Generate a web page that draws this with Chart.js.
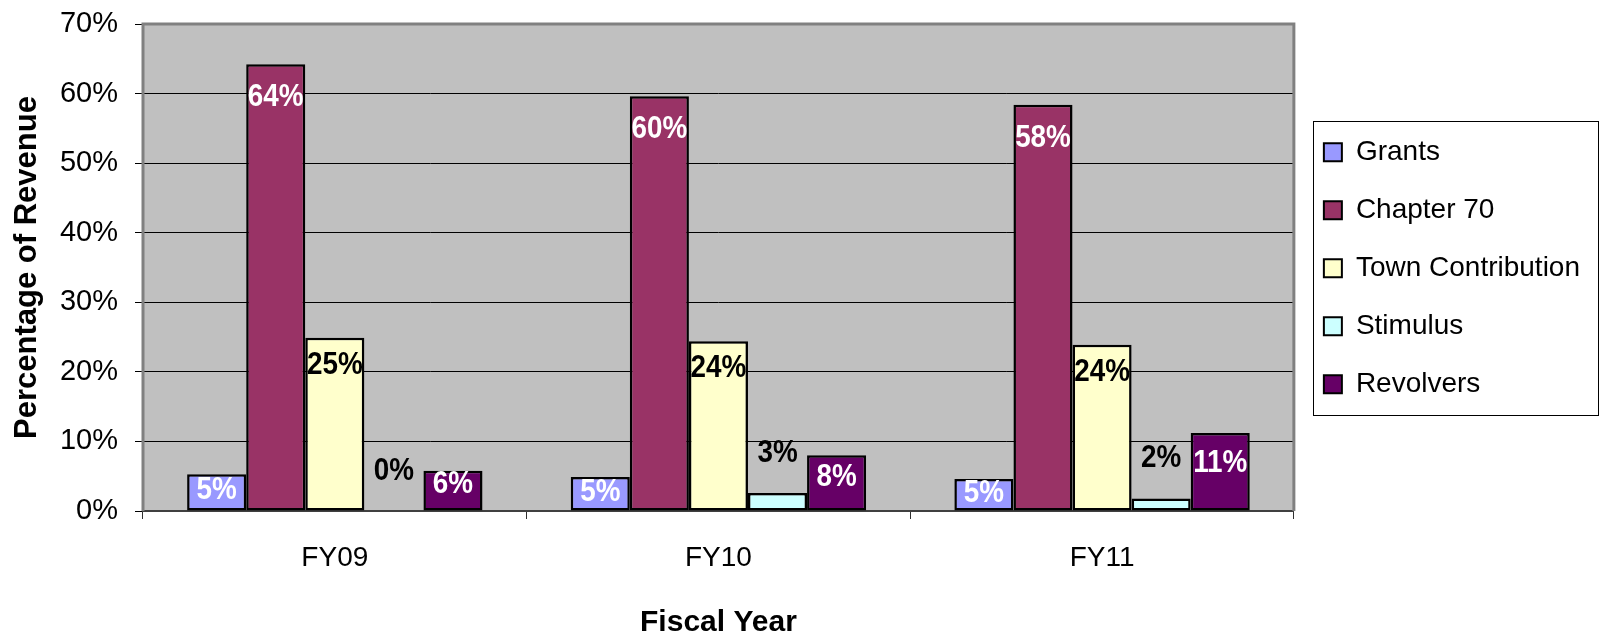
<!DOCTYPE html>
<html><head><meta charset="utf-8">
<script src="https://cdn.jsdelivr.net/npm/chart.js@4.4.1/dist/chart.umd.min.js"></script>
<style>html,body{margin:0;padding:0;background:#fff;} canvas{display:block;}</style>
</head><body>
<canvas id="c" width="1603" height="638"></canvas>
<script>
const categories = ['FY09', 'FY10', 'FY11'];
const seriesNames = ['Grants', 'Chapter 70', 'Town Contribution', 'Stimulus', 'Revolvers'];
const grants = [5.3, 4.9, 4.6];
const chapter70 = [64.2, 59.6, 58.4];
const townContribution = [24.9, 24.4, 23.9];
const stimulus = [0, 2.6, 1.8];
const revolvers = [5.8, 8.0, 11.2];
const yTicks = [0, 10, 20, 30, 40, 50, 60, 70];

const seriesData = [grants, chapter70, townContribution, stimulus, revolvers];
const colors = ['#9999FF', '#993366', '#FFFFCC', '#CCFFFF', '#660066'];
const labelColors = ['#FFFFFF', '#FFFFFF', '#000000', '#000000', '#FFFFFF'];
const FAMILY = '"Liberation Sans", Arial, sans-serif';

const plotFrame = {
  id: 'plotFrame',
  beforeDraw(chart) {
    const {ctx, chartArea: a} = chart;
    ctx.save();
    ctx.fillStyle = '#C0C0C0';
    ctx.fillRect(a.left, a.top, a.right - a.left, a.bottom - a.top);
    ctx.restore();
  },
  beforeDatasetsDraw(chart) {
    const {ctx, chartArea: a} = chart;
    ctx.save();
    ctx.strokeStyle = '#808080';
    ctx.lineWidth = 3;
    ctx.beginPath();
    ctx.moveTo(a.left, a.bottom);
    ctx.lineTo(a.left, a.top);
    ctx.lineTo(a.right, a.top);
    ctx.lineTo(a.right, a.bottom);
    ctx.stroke();
    ctx.restore();
  },
  afterDraw(chart) {
    const ctx = chart.ctx;
    const hb = chart.legend.legendHitBoxes;
    if (!hb || !hb.length) return;
    const l = Math.min(...hb.map(h => h.left)) - 11;
    const t = hb[0].top - 17;
    const r = Math.max(...hb.map(h => h.left + h.width)) + 18;
    const last = hb[hb.length - 1];
    const b = last.top + last.height + 17;
    ctx.save();
    ctx.strokeStyle = '#000';
    ctx.lineWidth = 1;
    ctx.strokeRect(Math.round(l) + 0.5, Math.round(t) + 0.5, Math.round(r - l), Math.round(b - t));
    ctx.restore();
  }
};

const barLabels = {
  id: 'barLabels',
  afterDatasetsDraw(chart) {
    const ctx = chart.ctx;
    chart.data.datasets.forEach((ds, i) => {
      const meta = chart.getDatasetMeta(i);
      meta.data.forEach((bar, j) => {
        const v = ds.data[j];
        const top = bar.y, base = bar.base;
        let y;
        if (i === 0) y = (top + base) / 2 - 2;
        else if (i === 1) y = top + 33;
        else if (i === 2) y = top + 27;
        else if (i === 3) y = top - 40;
        else y = Math.min(top + 30, (top + base) / 2 - 6);
        ctx.save();
        ctx.translate(bar.x, y);
        ctx.scale(0.87, 1);
        ctx.font = 'bold 32px ' + FAMILY;
        ctx.textAlign = 'center';
        ctx.textBaseline = 'middle';
        ctx.fillStyle = labelColors[i];
        ctx.fillText(Math.round(v) + '%', 0, 0);
        ctx.restore();
      });
    });
  }
};

new Chart(document.getElementById('c'), {
  type: 'bar',
  data: {
    labels: categories,
    datasets: seriesNames.map((n, i) => ({
      label: n,
      data: seriesData[i],
      backgroundColor: colors[i],
      borderColor: '#000000',
      borderWidth: 2.5,
      borderSkipped: false,
      barPercentage: 1,
      categoryPercentage: 0.77
    }))
  },
  options: {
    responsive: false,
    animation: false,
    devicePixelRatio: 1,
    layout: {padding: {top: 24, right: 13, left: 0, bottom: 0}},
    plugins: {
      tooltip: {enabled: false},
      legend: {
        position: 'right',
        align: 'start',
        title: {display: true, text: ' ', font: {size: 1}, padding: {top: 83, bottom: 0}},
        labels: {
          boxWidth: 18,
          boxHeight: 18,
          padding: 30,
          color: '#000',
          font: {size: 28, family: FAMILY},
          generateLabels(chart) {
            return Chart.defaults.plugins.legend.labels.generateLabels(chart).map(l => Object.assign(l, {lineWidth: 2, strokeStyle: '#000'}));
          }
        }
      }
    },
    scales: {
      x: {
        afterFit(scale) { scale.height = 127; },
        grid: {drawOnChartArea: false, drawTicks: true, color: '#303030', tickLength: 8, offset: true},
        border: {color: '#404040', width: 2},
        ticks: {color: '#000', font: {size: 28, family: FAMILY}, padding: 22},
        title: {display: true, text: 'Fiscal Year', color: '#000', font: {size: 30, weight: 'bold', family: FAMILY, lineHeight: 1}, padding: {top: 0, bottom: 0}}
      },
      y: {
        min: 0,
        max: 70,
        afterBuildTicks(scale) { scale.ticks = yTicks.map(v => ({value: v})); },
        afterFit(scale) { scale.width = 143; scale.paddingTop = 0; scale.paddingBottom = 0; },
        ticks: {color: '#000', font: {size: 29, family: FAMILY}, padding: 17, callback: v => v + '%'},
        grid: {color: '#000', tickLength: 8, lineWidth: 1},
        border: {display: false},
        title: {display: true, text: 'Percentage of Revenue', color: '#000', font: {size: 31, weight: 'bold', family: FAMILY}, padding: {top: 9, bottom: 0}}
      }
    }
  },
  plugins: [plotFrame, barLabels]
});
</script>
</body></html>
